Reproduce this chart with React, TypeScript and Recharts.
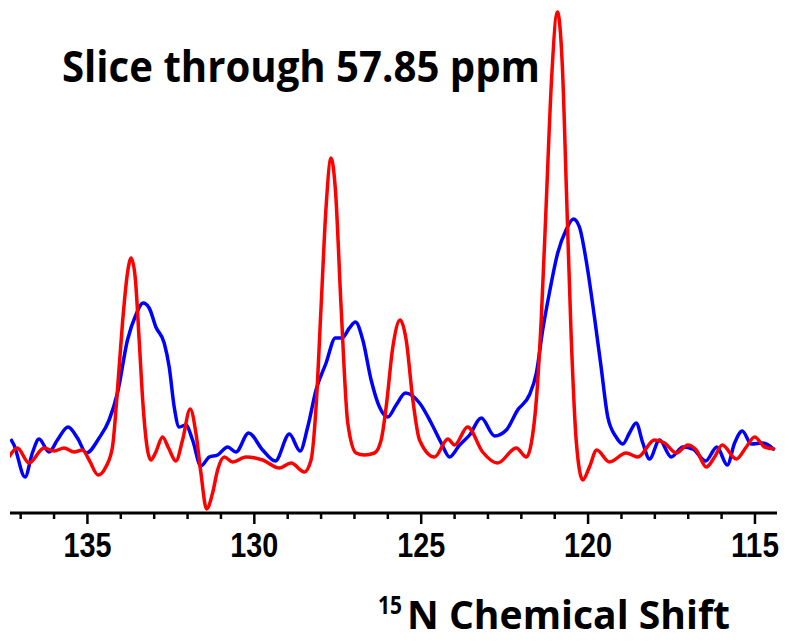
import React from 'react'
import { LineChart, Line, XAxis, YAxis } from 'recharts'

// ppm / intensity (a.u.)
const bluePpm = [
  137.3, 137.2, 136.87, 136.65, 136.45, 136.15, 135.9, 135.58, 135.3, 135.03, 134.65, 134.35, 134.1,
  133.8, 133.55, 133.33, 133.15, 132.95, 132.7, 132.55, 132.4, 132.25, 132.05, 131.85, 131.6, 131.35,
  131.1, 130.8, 130.55, 130.17, 129.75, 129.37, 128.95, 128.63, 128.4, 128.15, 127.85, 127.57, 127.37,
  127.15, 126.97, 126.75, 126.5, 126.25, 126.0, 125.75, 125.47, 125.05, 124.7, 124.4, 124.15, 123.85,
  123.55, 123.2, 122.8, 122.45, 122.11, 121.76, 121.55, 121.36, 121.16, 120.91, 120.66, 120.44, 120.26,
  120.06, 119.81, 119.61, 119.41, 119.16, 118.96, 118.76, 118.56, 118.36, 118.16, 117.86, 117.51,
  117.16, 116.86, 116.48, 116.14, 115.83, 115.61, 115.38, 115.11, 114.76, 114.41,
]
const blueIntensity = [
  74, 68, 36, 60, 74, 61, 73, 86, 75, 60, 75, 93, 120,
  173, 198, 210, 205, 186, 170, 146, 106, 86, 88, 73, 47, 56,
  58, 66, 61, 80, 63, 52, 79, 62, 86, 123, 150, 175, 175,
  185, 191, 173, 133, 106, 96, 108, 120, 110, 90, 70, 56, 68,
  78, 95, 77, 83, 103, 118, 140, 183, 220, 260, 283, 294, 286,
  253, 196, 146, 96, 76, 69, 80, 90, 70, 54, 73, 56,
  66, 64, 52, 66, 48, 70, 82, 69, 70, 63,
]

const redPpm = [
  137.35, 137.1, 136.75, 136.3, 136.0, 135.7, 135.4, 135.15, 134.95, 134.68, 134.45, 134.25, 134.1,
  133.95, 133.8, 133.69, 133.57, 133.45, 133.33, 133.2, 133.1, 132.95, 132.75, 132.57, 132.35, 132.15,
  131.92, 131.75, 131.6, 131.43, 131.25, 131.1, 130.9, 130.65, 130.25, 129.75, 129.25, 128.9, 128.5,
  128.3, 128.15, 128.0, 127.85, 127.7, 127.57, 127.4, 127.2, 126.95, 126.7, 126.4, 126.2, 126.05,
  125.85, 125.63, 125.45, 125.25, 125.05, 124.6, 124.2, 124.0, 123.61, 123.16, 122.71, 122.15, 121.85,
  121.7, 121.55, 121.4, 121.25, 121.1, 120.92, 120.77, 120.64, 120.51, 120.35, 120.16, 119.96, 119.74,
  119.36, 118.86, 118.51, 118.01, 117.71, 117.36, 117.01, 116.76, 116.46, 116.21, 115.98, 115.56,
  115.26, 115.01, 114.71, 114.41,
]
const redIntensity = [
  56, 65, 50, 65, 62, 65, 61, 63, 53, 38, 46, 66, 123,
  190, 240, 255, 236, 173, 106, 63, 53, 61, 76, 65, 52, 73,
  104, 80, 40, 4, 20, 43, 56, 51, 56, 53, 45, 50, 41,
  53, 106, 206, 306, 355, 323, 206, 90, 60, 58, 60, 73, 106,
  166, 193, 173, 113, 73, 56, 74, 68, 86, 61, 50, 65, 56,
  70, 113, 196, 313, 430, 501, 446, 313, 180, 70, 33, 46, 63,
  51, 60, 56, 73, 70, 60, 68, 63, 46, 56, 68, 54,
  66, 76, 66, 64,
]

const tickValues = [
  137, 136, 135, 134, 133, 132, 131, 130, 129, 128, 127, 126, 125, 124, 123, 122, 121, 120, 119, 118,
  117, 116, 115,
]

const blueData = bluePpm.map((ppm, i) => ({ ppm, v: blueIntensity[i] }))
const redData = redPpm.map((ppm, i) => ({ ppm, v: redIntensity[i] }))

function ShiftTick({ x, y, payload }: any) {
  const major = payload.value % 5 === 0
  return (
    <g>
      <line x1={x} x2={x} y1={y} y2={y + (major ? 11 : 6)} stroke="#000" strokeWidth={2.5} />
      {major && (
        <text
          x={x}
          y={y + 44}
          textAnchor="middle"
          fontFamily="'Liberation Sans', Arial, sans-serif"
          fontWeight="bold"
          fontSize={35}
          fill="#000"
          textLength={48}
          lengthAdjust="spacingAndGlyphs"
        >
          {payload.value}
        </text>
      )}
    </g>
  )
}

export default function App() {
  return (
    <div style={{ position: 'absolute', left: 0, top: 0, width: 789, height: 642, background: '#fff' }}>
      <LineChart width={789} height={642} margin={{ top: 0, right: 12, bottom: 69, left: 10 }}>
        <XAxis
          type="number"
          dataKey="ppm"
          domain={[114.34, 137.32]}
          reversed
          allowDataOverflow
          ticks={tickValues}
          interval={0}
          tick={<ShiftTick />}
          tickLine={false}
          tickSize={0}
          tickMargin={0}
          height={60}
          axisLine={{ stroke: '#000', strokeWidth: 3 }}
        />
        <YAxis hide type="number" domain={[0, 513]} />
        <Line
          data={blueData}
          dataKey="v"
          type="monotone"
          stroke="#0000ff"
          strokeWidth={3.5}
          dot={false}
          isAnimationActive={false}
        />
        <Line
          data={redData}
          dataKey="v"
          type="monotone"
          stroke="#ff0000"
          strokeWidth={3.5}
          dot={false}
          isAnimationActive={false}
        />
      </LineChart>
      <svg
        width={789}
        height={642}
        style={{ position: 'absolute', left: 0, top: 0, pointerEvents: 'none' }}
      >
        <text
          x={62}
          y={82}
          fontFamily="'Open Sans', sans-serif"
          fontWeight="bold"
          fontSize={43}
          fill="#000"
          textLength={478}
          lengthAdjust="spacingAndGlyphs"
        >
          Slice through 57.85 ppm
        </text>
        <text
          x={378}
          y={614}
          fontFamily="'Open Sans', sans-serif"
          fontWeight="bold"
          fontSize={25}
          fill="#000"
          textLength={24}
          lengthAdjust="spacingAndGlyphs"
        >
          15
        </text>
        <text
          x={407}
          y={629}
          fontFamily="'Open Sans', sans-serif"
          fontWeight="bold"
          fontSize={39}
          fill="#000"
          textLength={323}
          lengthAdjust="spacingAndGlyphs"
        >
          N Chemical Shift
        </text>
      </svg>
    </div>
  )
}
